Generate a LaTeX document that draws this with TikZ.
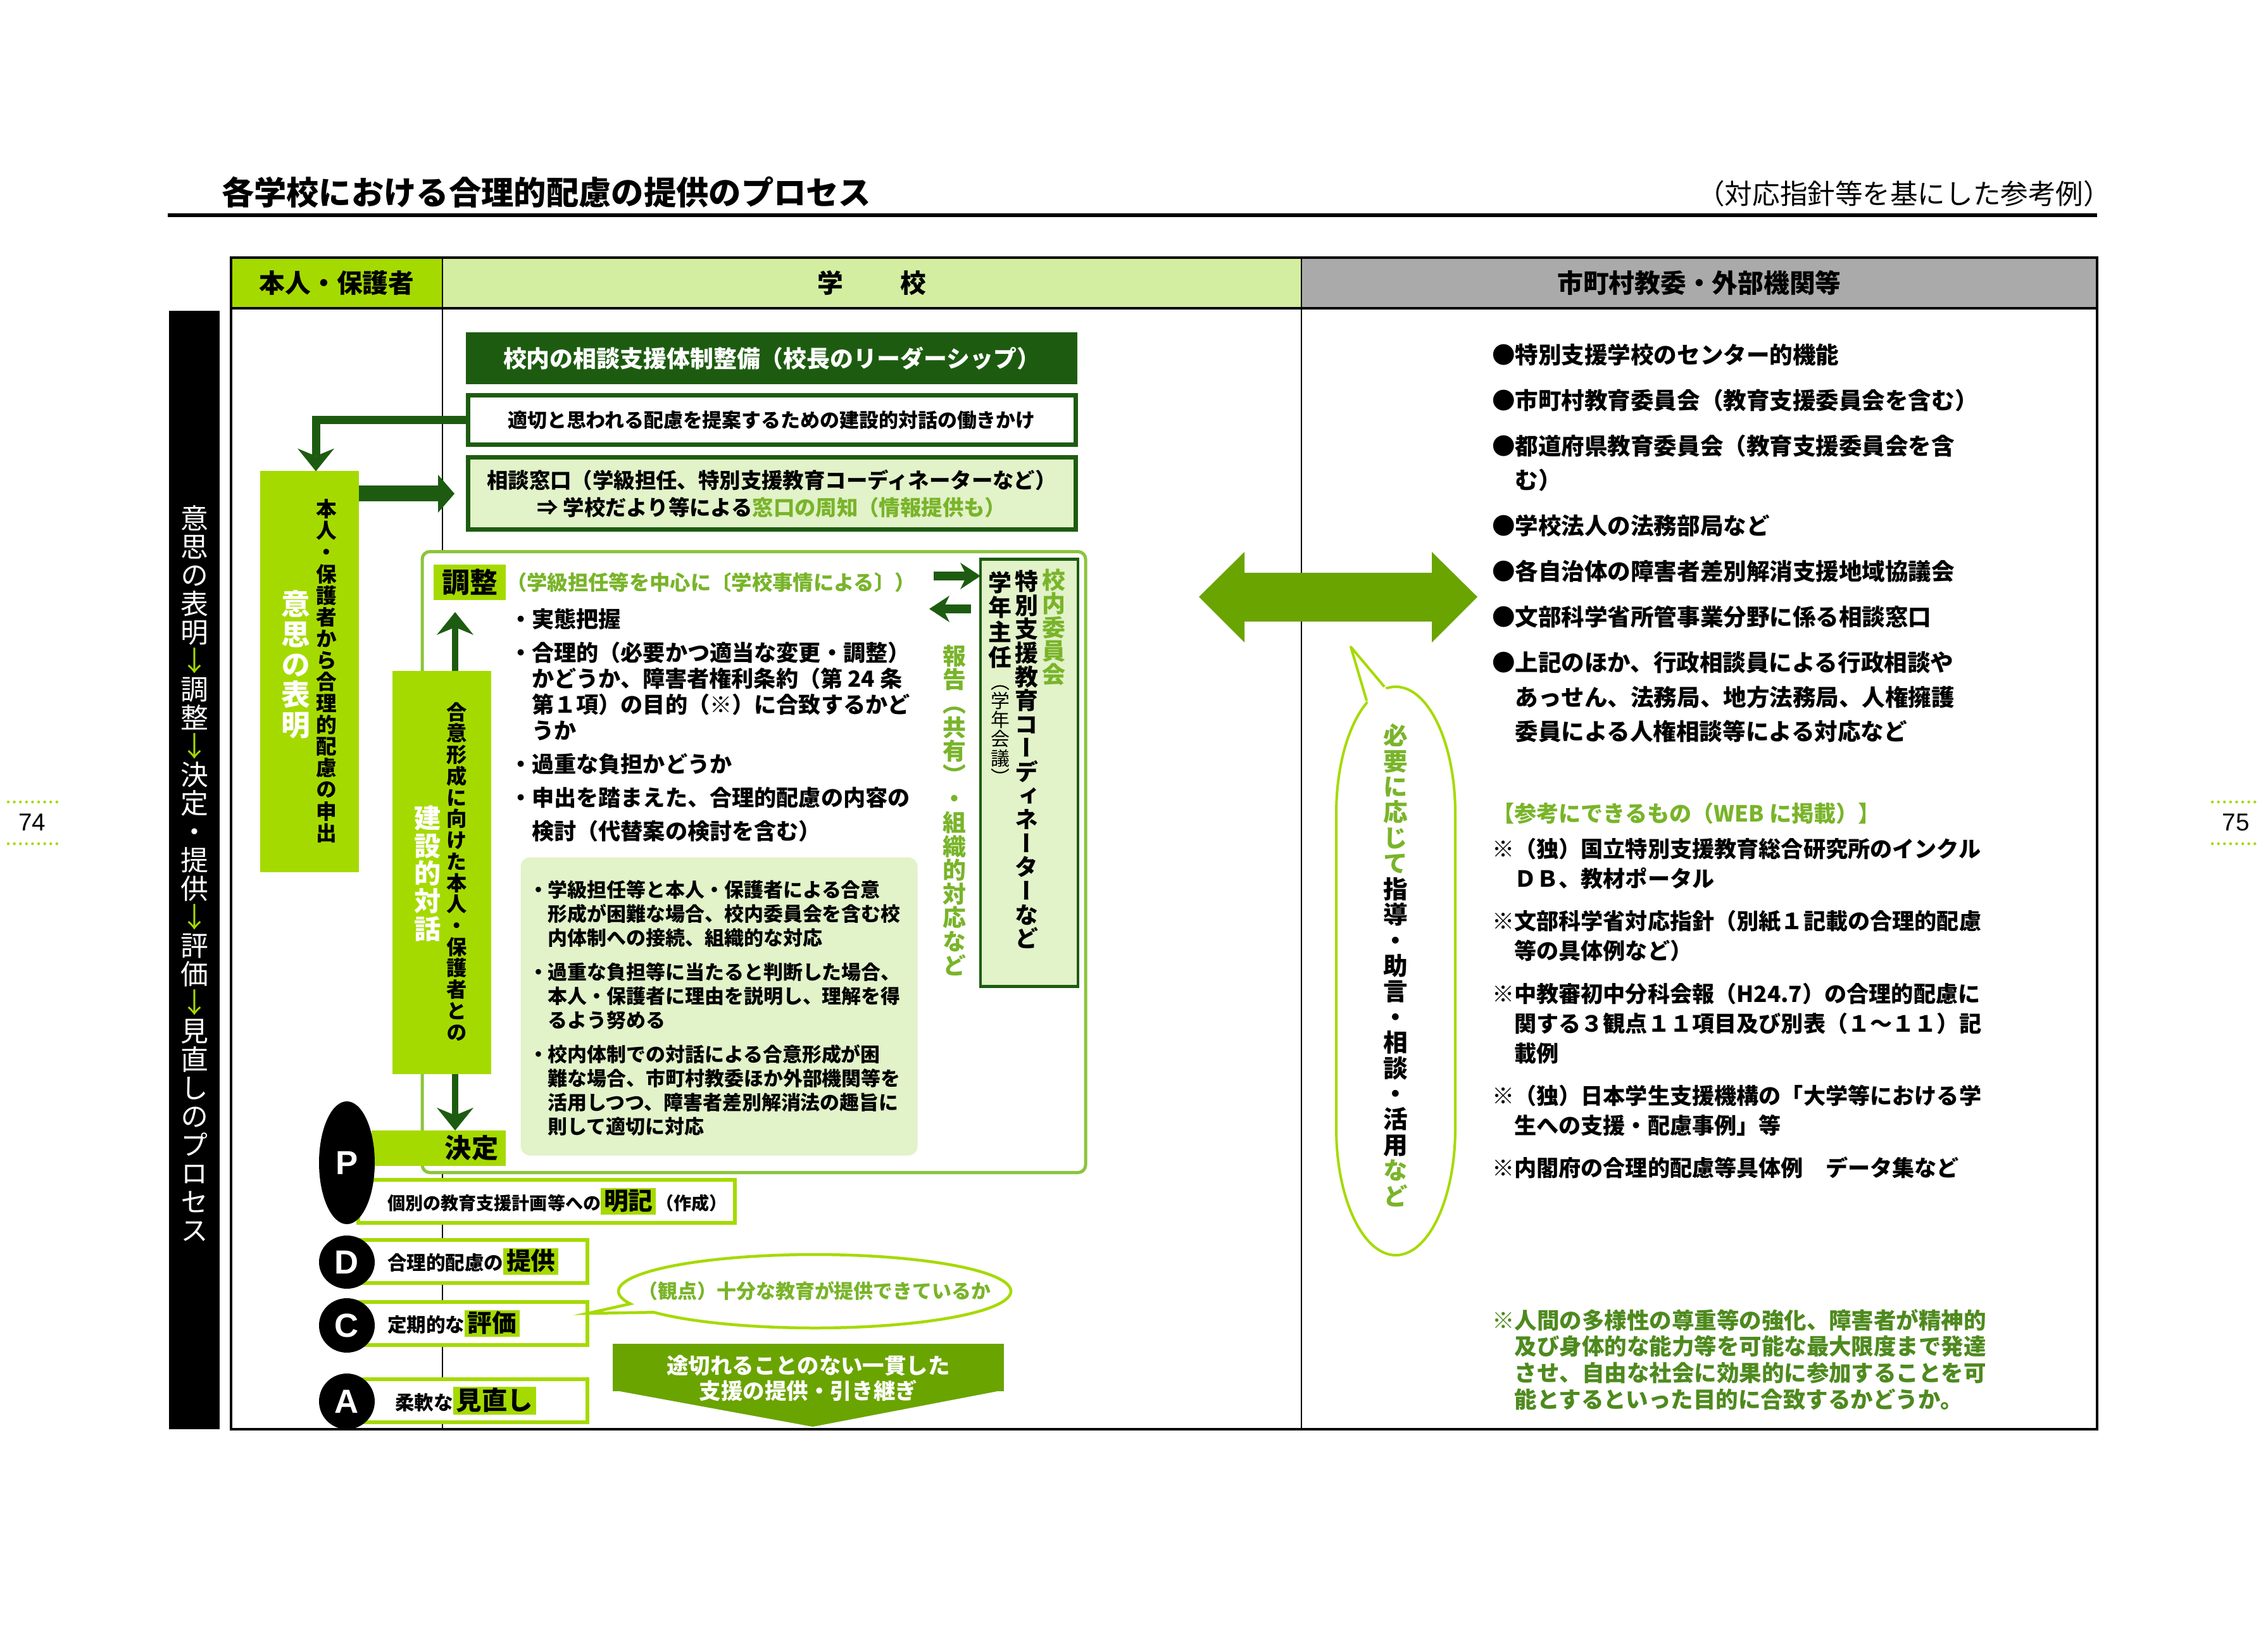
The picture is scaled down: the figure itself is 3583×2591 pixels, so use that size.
\documentclass[tikz,border=0pt]{standalone}
\usepackage{fontspec}
\setmainfont{Noto Sans CJK JP}
\newfontfamily\vjp{Noto Sans CJK JP}[RawFeature=+vert]
\newfontfamily\lat{Liberation Sans}
\usetikzlibrary{arrows.meta, positioning, shapes.geometric, shapes.callouts}
\pgfdeclarelayer{back}
\pgfsetlayers{back,main}
\definecolor{dkgreen}{HTML}{1D5C10}
\definecolor{brgreen}{HTML}{A5DA00}
\definecolor{hdlight}{HTML}{D3EDA1}
\definecolor{palegreen}{HTML}{E2F2C9}
\definecolor{txgreen}{HTML}{79B42A}
\definecolor{leaf}{HTML}{6AA400}
\definecolor{rline}{HTML}{8CC43C}
\definecolor{hdgray}{HTML}{AAAAAA}
\definecolor{ftgreen}{HTML}{4E8A1E}
\newcommand{\fsz}[2]{\fontsize{#1pt}{#2pt}\selectfont\lineskiplimit=-\maxdimen\lineskip=0pt\relax}
\ExplSyntaxOn
\NewDocumentCommand\vchars{m}{\tl_map_inline:nn{#1}{\hbox_to_wd:nn{1em}{\hss##1\hss}}}
\ExplSyntaxOff
\newcommand{\vcol}[2]{\vbox{\vjp#1\vchars{#2}}}
\newcommand{\vmix}[2]{\vbox{\vjp#1#2}}
\newcommand{\hlword}[2]{{\fsz{#1}{#1}\setlength{\fboxsep}{0pt}\colorbox{brgreen}{\hspace{0.12em}\rule[-0.18em]{0pt}{1.08em}\smash{#2}\hspace{0.12em}}}}

\begin{document}
\begin{tikzpicture}[x=0.1mm, y=-0.1mm,
  every node/.style={inner sep=0pt, outer sep=0pt},
  hdcell/.style={anchor=north west, minimum height=8mm, font=\bfseries\fsz{11.6}{14}},
  limebox/.style={fill=brgreen},
  lnbox/.style={draw=dkgreen, line width=0.7mm, minimum width=96mm, align=center},
  pdbox/.style={draw=brgreen, line width=0.6mm, fill=white, anchor=west, minimum height=6.8mm},
  pdtext/.style={anchor=west, font=\bfseries\fsz{8.7}{10}},
  pdcadot/.style={ellipse, fill=black, text=white, minimum width=8.8mm, font=\lat\bfseries\fsz{15}{16}},
  blist/.style={anchor=north west, align=left},
  darr/.style={dkgreen, line width=1mm, -{Stealth[length=3.6mm, width=5.8mm, inset=1.2mm, line width=0pt]}},
  sarr/.style={dkgreen, line width=1.4mm, -{Stealth[length=3.2mm, width=4.2mm, inset=1mm, line width=0pt]}},
  pgdots/.style={brgreen, line width=0.45mm, line cap=round, dash pattern=on 0mm off 0.96mm},
]
\useasboundingbox (0,0) rectangle (3583,2591);
\fill[white] (0,0) rectangle (3583,2591);

\draw[pgdots] (13,1267) -- (91,1267) (13,1333) -- (91,1333);
\node[font=\lat\fsz{11}{12}] (pg74) at (51,1299) {74};
\draw[pgdots] (3495,1267) -- (3571,1267) (3495,1333) -- (3571,1333);
\node[font=\lat\fsz{11}{12}] (pg75) at (3532,1299) {75};

\node[anchor=west, font=\bfseries\fsz{14.6}{16}] (title) at (350,304) {各学校における合理的配慮の提供のプロセス};
\node[anchor=east, font=\fsz{12.4}{14}] (subtitle) at (3335,306) {（対応指針等を基にした参考例）};
\draw[line width=0.6mm] (265,340) -- (3313,340);

% table frame
\node[hdcell, fill=brgreen, minimum width=33.4mm] (hself) at (365,407) {本人・保護者};
\node[hdcell, fill=hdlight, minimum width=135.7mm] (hschool) at (699,407) {学\hspace{2.2em}校};
\node[hdcell, fill=hdgray, minimum width=125.7mm] (hext) at (2056,407) {市町村教委・外部機関等};
\draw[line width=0.4mm] (365,407) rectangle (3313,2258);
\draw[line width=0.45mm] (365,487) -- (3313,487);
\draw[line width=0.25mm] (699,407) -- (699,2258) (2056,407) -- (2056,2258);

\fill (267,491) rectangle (347,2258);
\node (band) at (307,1380) {\vmix{\color{white}\fsz{12.5}{12.8}}{\vchars{意思の表明}{\color{brgreen}\vchars{↓}}\vchars{調整}{\color{brgreen}\vchars{↓}}\vchars{決定・提供}{\color{brgreen}\vchars{↓}}\vchars{評価}{\color{brgreen}\vchars{↓}}\vchars{見直しのプロセス}}};

% person column
\node[limebox, minimum width=15.6mm, minimum height=63.3mm] (ishi) at (489,1061) {};
\node (ishiT) at (516,1060) {\vcol{\bfseries\fsz{9.3}{9.7}}{本人・保護者から合理的配慮の申出}};
\node (ishiW) at (467,1050) {\vcol{\color{white}\bfseries\fsz{13}{13.6}}{意思の表明}};

% school column
\node[fill=dkgreen, text=white, minimum width=96.6mm, minimum height=8.2mm, font=\bfseries\fsz{10.5}{12}] (taisei) at (1219,566) {校内の相談支援体制整備（校長のリーダーシップ）};
\node[lnbox, fill=white, minimum height=7.8mm, font=\bfseries\fsz{8.8}{10}] (hataraki) at (1219,664) {適切と思われる配慮を提案するための建設的対話の働きかけ};
\node[lnbox, fill=palegreen, minimum height=11.4mm, font=\bfseries\fsz{9.5}{12}] (soudan) at (1219,780) {相談窓口（学級担任、特別支援教育コーディネーターなど）\\⇒ 学校だより等による\textcolor{txgreen}{窓口の周知（情報提供も）}};
\draw[darr, line width=1.3mm] (hataraki.west) -| ([xshift=1mm]ishi.north);
\draw[dkgreen, line width=2.5mm, -{Triangle[length=2.6mm, width=6mm, line width=0pt]}, shorten >=2.1mm] (ishi.east |- soudan.west) -- (soudan.west);

\node[draw=rline, line width=0.5mm, fill=white, rounded corners=1.2mm, minimum width=104.8mm, minimum height=98.1mm] (kounai) at (1191,1362) {};
\node[limebox, minimum width=11.4mm, minimum height=5.6mm, font=\bfseries\fsz{12.5}{14}] (chosei) at (742,920) {調整};
\node[anchor=west, text=txgreen, font=\bfseries\fsz{9.2}{10}] (choseiN) at (800,920) {（学級担任等を中心に〔学校事情による〕）};
\node[blist, font=\bfseries\fsz{10}{11.7}] (jittai) at (805,961) {・実態把握\\[3.4pt]%
・合理的（必要かつ適当な変更・調整）\\%
\hspace*{1em}かどうか、障害者権利条約（第 24 条\\%
\hspace*{1em}第１項）の目的（※）に合致するかど\\%
\hspace*{1em}うか\\[3.4pt]%
・過重な負担かどうか\\[3.4pt]%
・申出を踏まえた、合理的配慮の内容の\\[3.4pt]%
\hspace*{1em}検討（代替案の検討を含む）};
\node[fill=palegreen, rounded corners=1.5mm, minimum width=62.7mm, minimum height=47.1mm] (zusatz) at (1136,1590) {};
\node[blist, font=\bfseries\fsz{8.8}{10.8}] (zusatzT) at (835,1391) {・学級担任等と本人・保護者による合意\\%
\hspace*{1em}形成が困難な場合、校内委員会を含む校\\%
\hspace*{1em}内体制への接続、組織的な対応\\[4.6pt]%
・過重な負担等に当たると判断した場合、\\%
\hspace*{1em}本人・保護者に理由を説明し、理解を得\\%
\hspace*{1em}るよう努める\\[4.6pt]%
・校内体制での対話による合意形成が困\\%
\hspace*{1em}難な場合、市町村教委ほか外部機関等を\\%
\hspace*{1em}活用しつつ、障害者差別解消法の趣旨に\\%
\hspace*{1em}則して適切に対応};

\node[limebox, minimum width=15.6mm, minimum height=63.7mm] (kensetsu) at (698,1378) {};
\node (kensetsuT) at (722,1377) {\vcol{\bfseries\fsz{9.2}{9.6}}{合意形成に向けた本人・保護者との}};
\node (kensetsuW) at (676,1380) {\vcol{\color{white}\bfseries\fsz{12}{12.4}}{建設的対話}};
\node[limebox, minimum width=21.2mm, minimum height=5.6mm] (kettei) at (693,1814) {};
\node[font=\bfseries\fsz{12}{13}] (ketteiT) at (745,1814) {決定};
\coordinate (upTip) at (719,967);
\draw[darr] (kensetsu.north -| upTip) -- (upTip);
\draw[darr] (kensetsu.south -| upTip) -- (kettei.north -| upTip);

\node[draw=dkgreen, line width=0.45mm, fill=palegreen, minimum width=15.4mm, minimum height=67.5mm] (gakunen) at (1626,1221) {};
\node (gkA) at (1665,991) {\vcol{\color{txgreen}\bfseries\fsz{10.5}{10.6}}{校内委員会}};
\node (gkB) at (1622,1200) {\vcol{\bfseries\fsz{10.5}{10.7}}{特別支援教育コーディネーターなど}};
\node (gkC) at (1580,979) {\vcol{\bfseries\fsz{10.5}{11.2}}{学年主任}};
\node (gkD) at (1580,1161) {\vcol{\fsz{8.5}{8.6}}{（学年会議）}};
\node (houkoku) at (1508,1280) {\vcol{\color{txgreen}\bfseries\fsz{10.5}{10.7}}{報告（共有）・組織的対応など}};
\coordinate (toR) at (1475,910);
\coordinate (toL) at (1468,962);
\draw[sarr] (toR) -- (toR -| gakunen.west);
\draw[sarr, shorten <=1.5mm] (toL -| gakunen.west) -- (toL);

% PDCA
\coordinate (pdX) at (798,1900);
\node[pdbox, minimum width=59.5mm] (pBox) at (566,1898) {};
\node[pdbox, minimum width=36.2mm] (dBox) at (566,1993) {};
\node[pdbox, minimum width=36.2mm] (cBox) at (566,2091) {};
\node[pdbox, minimum width=36.2mm] (aBox) at (566,2213) {};
\begin{pgfonlayer}{back}
\draw[darr, line width=0.9mm] (kettei.south -| pdX) -- (aBox.north -| pdX);
\end{pgfonlayer}
\node[pdtext, font=\bfseries\fsz{8}{10}] (pText) at (612,1898) {個別の教育支援計画等への\hlword{11}{明記}（作成）};
\node[pdtext] (dText) at (612,1993) {合理的配慮の\hlword{11}{提供}};
\node[pdtext] (cText) at (612,2091) {定期的な\hlword{11}{評価}};
\node[pdtext] (aText) at (624,2213) {柔軟な\hlword{11.5}{見直し}};
\node[pdcadot, minimum height=19.4mm] (mP) at (548,1837) {P};
\node[pdcadot, minimum height=8.4mm] (mD) at (548,1994) {D};
\node[pdcadot, minimum height=8.6mm] (mC) at (548,2094) {C};
\node[pdcadot, minimum height=8.8mm] (mA) at (548,2214) {A};

\node[ellipse callout, draw=brgreen, line width=0.45mm, fill=white, minimum width=62mm, minimum height=11.6mm, callout absolute pointer={([yshift=1.6mm]cBox.east)}, text=txgreen, font=\bfseries\fsz{8.8}{10}] (kanten) at (1287,2040) {\makebox[40mm]{（観点）十分な教育が提供できているか}};

\node[fill=leaf, minimum width=61.8mm, minimum height=7.5mm, anchor=north] (kireme) at (1277,2123) {};
\coordinate (kiremeTip) at (1284,2254);
\fill[leaf] ([yshift=0.2mm]kireme.south west) -- ([yshift=0.2mm]kireme.south east) -- (kiremeTip) -- cycle;
\node[text=white, align=center, font=\bfseries\fsz{9.8}{11.4}] (kiremeT) at (1277,2177) {途切れることのない一貫した\\支援の提供・引き継ぎ};

% outside organisations
\fill[leaf] (1894,943) -- (1966,872) -- (1966,905) -- (2262,905) -- (2262,872) -- (2334,943) -- (2262,1015) -- (2262,982) -- (1966,982) -- (1966,1015) -- cycle;
\draw[brgreen, line width=0.4mm, fill=white] (2111,1285) arc[start angle=180, end angle=360, x radius=94, y radius=200] -- (2299,1783) arc[start angle=0, end angle=180, x radius=94, y radius=200] -- cycle;
\fill[white] (2162,1114) -- (2134,1022) -- (2193,1092) -- cycle;
\draw[brgreen, line width=0.4mm, line join=round] (2159,1107) -- (2134,1022) -- (2187,1085);
\node (shido) at (2205,1525) {\vmix{\bfseries\fsz{11}{11.5}}{{\color{txgreen}\vchars{必要に応じて}}\vchars{指導・助言・相談・活用}{\color{txgreen}\vchars{など}}}};

\node[blist, font=\bfseries\fsz{10.4}{15.4}] (kikan) at (2357,543) {●特別支援学校のセンター的機能\\[5.1pt]%
●市町村教育委員会（教育支援委員会を含む）\\[5.1pt]%
●都道府県教育委員会（教育支援委員会を含\\%
\hspace*{1em}む）\\[5.1pt]%
●学校法人の法務部局など\\[5.1pt]%
●各自治体の障害者差別解消支援地域協議会\\[5.1pt]%
●文部科学省所管事業分野に係る相談窓口\\[5.1pt]%
●上記のほか、行政相談員による行政相談や\\%
\hspace*{1em}あっせん、法務局、地方法務局、人権擁護\\%
\hspace*{1em}委員による人権相談等による対応など};
\node[blist, font=\bfseries\fsz{10}{13.4}] (sankou) at (2357,1268) {\textcolor{txgreen}{【参考にできるもの（WEB に掲載）】}\\[2.6pt]%
※（独）国立特別支援教育総合研究所のインクル\\%
\hspace*{1em}ＤＢ、教材ポータル\\[5.7pt]%
※文部科学省対応指針（別紙１記載の合理的配慮\\%
\hspace*{1em}等の具体例など）\\[5.7pt]%
※中教審初中分科会報（H24.7）の合理的配慮に\\%
\hspace*{1em}関する３観点１１項目及び別表（１～１１）記\\%
\hspace*{1em}載例\\[5.7pt]%
※（独）日本学生支援機構の「大学等における学\\%
\hspace*{1em}生への支援・配慮事例」等\\[5.7pt]%
※内閣府の合理的配慮等具体例　データ集など};
\node[blist, text=ftgreen, font=\bfseries\fsz{10.1}{11.9}] (chuki) at (2357,2068) {※人間の多様性の尊重等の強化、障害者が精神的\\%
\hspace*{1em}及び身体的な能力等を可能な最大限度まで発達\\%
\hspace*{1em}させ、自由な社会に効果的に参加することを可\\%
\hspace*{1em}能とするといった目的に合致するかどうか。};
\end{tikzpicture}
\end{document}
